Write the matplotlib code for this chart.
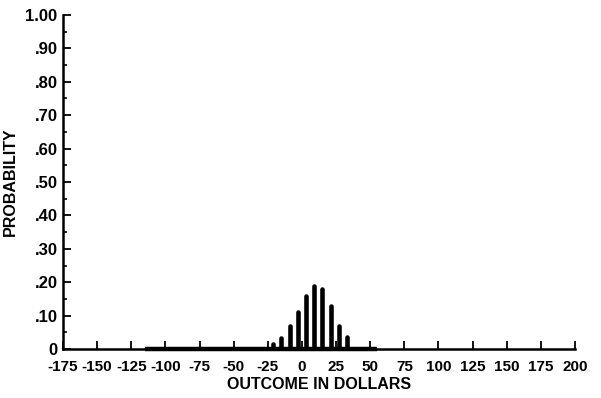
import numpy as np
import matplotlib.pyplot as plt

# outcome (dollars) and probability
outcome = [-21, -15, -9, -3, 3, 9, 15, 21, 27, 33]
prob = [0.015, 0.033, 0.069, 0.11, 0.16, 0.19, 0.18, 0.13, 0.069, 0.036]

# range of tiny-probability outcomes that thicken the baseline
tail_lo, tail_hi = -115, 55

xticks = list(range(-175, 201, 25))
yticks = [i / 10 for i in range(11)]
ylabels = ['0', '.10', '.20', '.30', '.40', '.50', '.60', '.70', '.80', '.90', '1.00']

plt.rcParams['font.family'] = ['Liberation Sans', 'DejaVu Sans']
plt.rcParams['font.weight'] = 'bold'
plt.rcParams['axes.labelweight'] = 'bold'

fig = plt.figure(figsize=(6.01, 3.98), dpi=100)
ax = fig.add_axes([63 / 601, 1 - 349 / 398, (575 - 63) / 601, (349 - 15) / 398])

ax.hlines(0, tail_lo, tail_hi, color='black', lw=3.2, clip_on=False, zorder=3)
bars = ax.vlines(outcome, 0, prob, color='black', lw=3.3, zorder=4)
bars.set_capstyle('round')

ax.set_xlim(-175, 200)
ax.set_ylim(0, 1.0)

ax.spines['top'].set_visible(False)
ax.spines['right'].set_visible(False)
for s in ['left', 'bottom']:
    ax.spines[s].set_linewidth(1.8)

ax.set_xticks(xticks)
ax.set_xticklabels([str(t) for t in xticks], fontsize=11)
ax.set_yticks(yticks)
ax.set_yticklabels(ylabels, fontsize=12)
ax.set_yticks(np.arange(0.05, 1.0, 0.1), minor=True)
ax.tick_params(axis='both', which='major', direction='in', length=6, width=1.3, pad=4)
ax.tick_params(axis='y', which='minor', direction='in', length=3, width=1.2)
ax.tick_params(axis='x', pad=8)

ax.set_xlabel('OUTCOME IN DOLLARS', fontsize=11.5, labelpad=2)
ax.set_ylabel('PROBABILITY', fontsize=11.5, labelpad=5)

fig.savefig('out.png', dpi=100)
